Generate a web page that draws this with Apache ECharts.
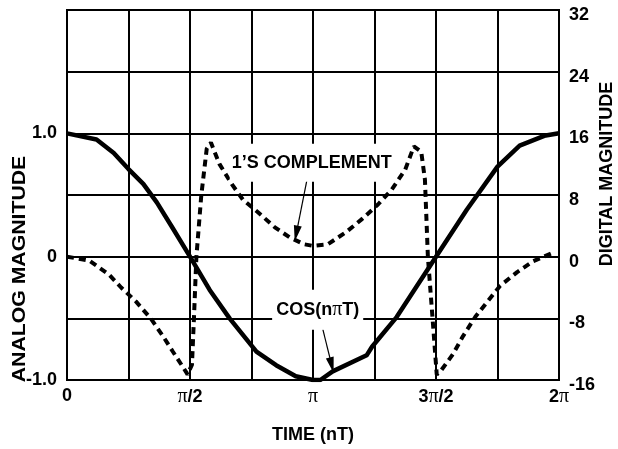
<!DOCTYPE html>
<html>
<head>
<meta charset="utf-8">
<script src="https://cdn.jsdelivr.net/npm/echarts@6/dist/echarts.min.js"></script>
<style>
  html, body { margin: 0; padding: 0; background: #fff; }
  #main { width: 618px; height: 449px; }
</style>
</head>
<body>
<div id="main"></div>
<script>
// time in units of pi, analog on left axis, digital on right axis
var cosPoints = [
  [0, 1.0], [0.12, 0.95], [0.19, 0.84], [0.25, 0.71], [0.31, 0.59], [0.365, 0.44],
  [0.43, 0.23], [0.5, 0.0], [0.58, -0.27], [0.661, -0.5], [0.77, -0.77],
  [0.85, -0.88], [0.93, -0.97], [1.0, -1.0], [1.03, -1.0], [1.08, -0.93],
  [1.218, -0.8], [1.24, -0.73], [1.34, -0.49], [1.5, 0], [1.625, 0.38],
  [1.75, 0.73], [1.84, 0.9], [1.94, 0.98], [2.0, 1.0]
];

var onesPoints = [
  [0, 0], [0.09, -0.5], [0.17, -2.3], [0.22, -4], [0.28, -5.8], [0.34, -8],
  [0.39, -10.3], [0.43, -12.3], [0.485, -15], [0.49, -15.3],
  [0.508, -14], [0.516, -8], [0.526, 0], [0.546, 8], [0.568, 14], [0.585, 14.8],
  [0.62, 12], [0.67, 9.4], [0.715, 7.4], [0.775, 5.8], [0.845, 3.8], [0.905, 2.5],
  [0.965, 1.6], [1.0, 1.4], [1.06, 1.6], [1.135, 3.2], [1.2, 4.9], [1.265, 6.8],
  [1.32, 8.7], [1.375, 11.3], [1.41, 14.3], [1.44, 13.6], [1.455, 10], [1.467, 0],
  [1.486, -8], [1.503, -15.3], [1.52, -14.8], [1.57, -12.6], [1.61, -10.3],
  [1.66, -7.8], [1.71, -5.8], [1.76, -3.8], [1.83, -2], [1.895, -0.6], [1.975, 0.5]
];

var timeLabels = { '0': '0', '0.5': '{p|\u03c0}/2', '1': '{p|\u03c0}', '1.5': '3{p|\u03c0}/2', '2': '2{p|\u03c0}' };
var analogLabels = { '-1': '-1.0', '0': '0', '1': '1.0' };

var sans = '"Liberation Sans", Arial, sans-serif';
var serif = '"Liberation Serif", "DejaVu Serif", serif';
var fs = 18;
// narrow filled arrow head, padded to a square-ish box with two invisible specks
var arrowHead = 'path://M8,0 L12,20 L4,20 Z M0,10 L0.01,10 L0,10.01 Z M16,10 L15.99,10 L16,10.01 Z';

var chart = echarts.init(document.getElementById('main'));

function arrow(from, to) {
  return {
    silent: true, symbol: ['none', arrowHead], symbolSize: 16,
    itemStyle: { color: '#000' },
    lineStyle: { color: '#000', width: 1.2, type: 'solid' },
    label: { show: false },
    emphasis: { disabled: true },
    data: [[{ coord: from }, { coord: to }]]
  };
}

function note(text, coord, pad) {
  return {
    silent: true, symbol: 'rect', symbolSize: 1, itemStyle: { color: 'rgba(0,0,0,0)' },
    label: {
      show: true, position: 'inside', formatter: text,
      backgroundColor: '#fff', padding: pad, color: '#000',
      fontWeight: 'bold', fontSize: fs, fontFamily: sans,
      rich: { p: { fontFamily: serif, fontWeight: 'normal', fontSize: 20, color: '#000' } }
    },
    data: [{ coord: coord }]
  };
}

var option = {
  animation: false,
  backgroundColor: '#fff',
  grid: { left: 67, right: 59, top: 10, bottom: 68, show: true, borderColor: '#000', borderWidth: 2 },
  xAxis: {
    type: 'value', min: 0, max: 2, interval: 0.25,
    name: 'TIME (nT)', nameLocation: 'middle', nameGap: 46,
    nameTextStyle: { color: '#000', fontWeight: 'bold', fontSize: fs, fontFamily: sans },
    axisLine: { show: false }, axisTick: { show: false },
    splitLine: { show: true, lineStyle: { color: '#000', width: 2 } },
    axisLabel: {
      margin: 7, color: '#000', fontWeight: 'bold', fontSize: fs, fontFamily: sans,
      showMinLabel: true, showMaxLabel: true,
      formatter: function (v) { return timeLabels[String(v)] || ''; },
      rich: { p: { fontFamily: serif, fontWeight: 'normal', fontSize: 20, color: '#000' } }
    }
  },
  yAxis: [{
    type: 'value', min: -1, max: 2, interval: 0.5,
    axisLine: { show: false }, axisTick: { show: false },
    splitLine: { show: true, lineStyle: { color: '#000', width: 2 } },
    axisLabel: {
      margin: 10, color: '#000', fontWeight: 'bold', fontSize: fs, fontFamily: sans,
      formatter: function (v) { return analogLabels[String(v)] || ''; }
    }
  }, {
    type: 'value', min: -16, max: 32, interval: 8, position: 'right',
    axisLine: { show: false }, axisTick: { show: false }, splitLine: { show: false },
    axisLabel: {
      margin: 10, color: '#000', fontWeight: 'bold', fontSize: fs, fontFamily: sans,
      verticalAlign: 'top', lineHeight: 10
    }
  }],
  graphic: [{
    type: 'text', x: 20, y: 269, rotation: Math.PI / 2, scaleX: 1.18,
    style: { text: 'ANALOG MAGNITUDE', fill: '#000', font: 'bold 18px ' + sans, align: 'center', verticalAlign: 'middle' }
  }, {
    type: 'text', x: 607, y: 174, rotation: Math.PI / 2,
    style: { text: 'DIGITAL MAGNITUDE', fill: '#000', font: 'bold 18px ' + sans, align: 'center', verticalAlign: 'middle' }
  }],
  series: [{
    name: 'COS(n\u03c0T)', type: 'line', yAxisIndex: 0, data: cosPoints,
    showSymbol: false, smooth: false, silent: true,
    lineStyle: { color: '#000', width: 4.5, join: 'round' },
    markPoint: note('COS(n{p|\u03c0}T)', [1.019, -0.43], [10, 4]),
    markLine: arrow([1.04, -0.59], [1.076, -0.88])
  }, {
    name: "1'S COMPLEMENT", type: 'line', yAxisIndex: 1, data: onesPoints,
    showSymbol: false, smooth: false, silent: true,
    lineStyle: { color: '#000', width: 4, type: [7, 5] },
    markPoint: note('1\u2019S COMPLEMENT', [0.995, 12.2], [10, 2]),
    markLine: arrow([0.975, 9.9], [0.932, 3.0])
  }]
};

chart.setOption(option);
</script>
</body>
</html>
